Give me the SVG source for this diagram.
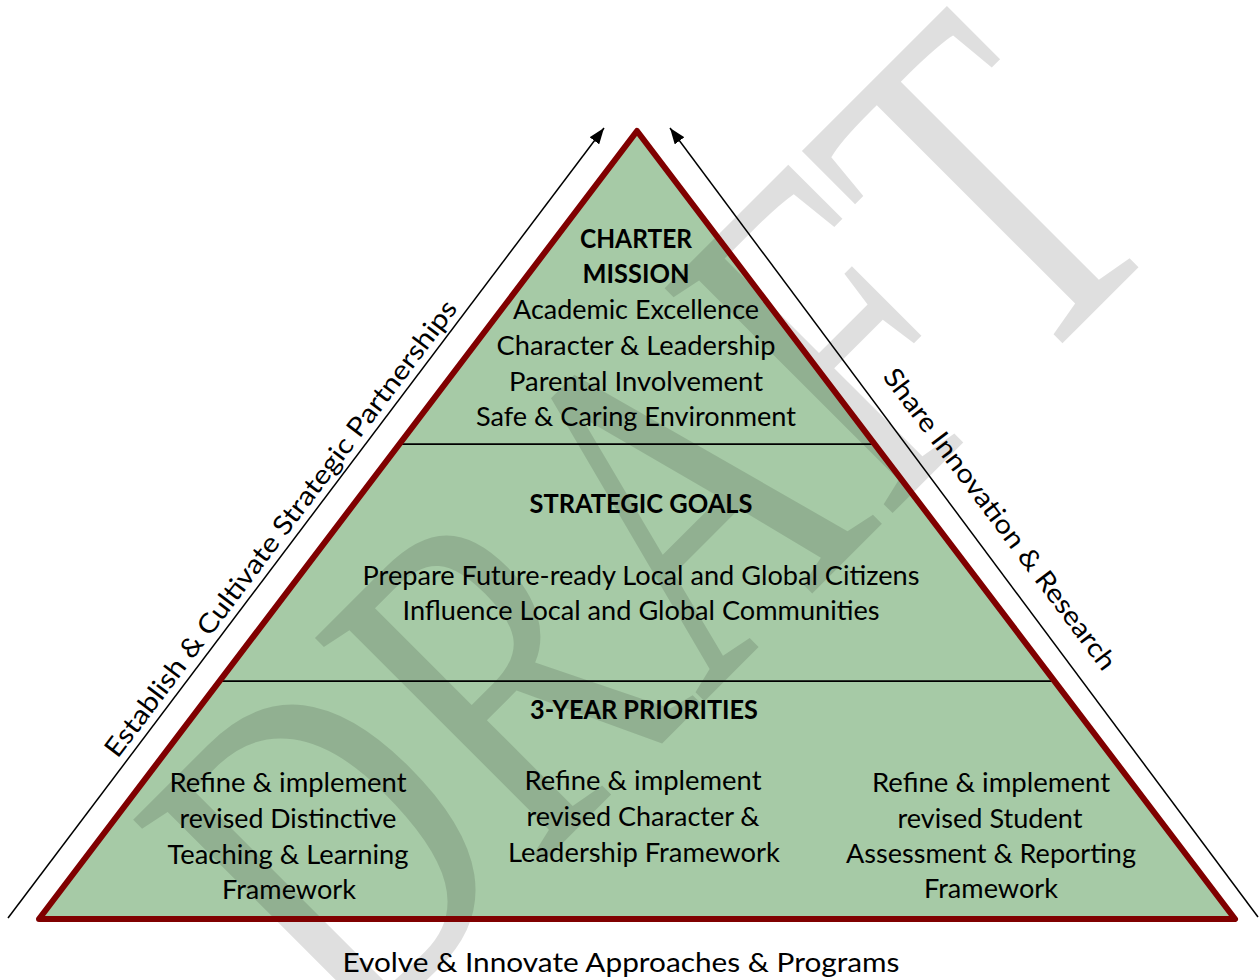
<svg xmlns="http://www.w3.org/2000/svg" width="1260" height="980" viewBox="0 0 1260 980">
  <style>
    .txt { font-family: Lato, "Liberation Sans", sans-serif; font-size: 26.5px; fill: #000; text-anchor: middle; }
    .bold { font-weight: bold; }
    .wm { font-family: "Liberation Serif", "Times New Roman", serif; font-size: 489px; fill: #000; fill-opacity: 0.125; }
    .divider { stroke: #000; stroke-width: 1.75; }
    .border { fill: none; stroke: #800000; stroke-width: 6; stroke-linejoin: round; }
    .arrow { stroke: #000; stroke-width: 1.5; fill: none; marker-end: url(#head); }
  </style>
  <defs>
    <marker id="head" viewBox="0 0 16 12" refX="16" refY="6" markerWidth="16" markerHeight="12" markerUnits="userSpaceOnUse" orient="auto">
      <path d="M0,0 L16,6 L0,12 z" fill="#000"/>
    </marker>
  </defs>

  <rect width="1260" height="980" fill="#fff"/>

  <!-- pyramid body -->
  <g id="pyramid">
    <polygon points="637,131 1235,919 39,919" fill="#a6caa6"/>
  </g>

  <!-- background watermark -->
  <text class="wm" transform="rotate(-45) scale(0.728,1)" x="-681" y="994">DRAFT</text>

  <!-- tier dividers and outline -->
  <g id="tiers">
    <line class="divider" x1="399" y1="444" x2="875" y2="444"/>
    <line class="divider" x1="218" y1="681" x2="1056" y2="681"/>
    <polygon class="border" points="637,131 1235,919 39,919"/>
  </g>

  <!-- side arrows -->
  <g id="connectors">
    <line class="arrow" x1="8" y1="918" x2="604" y2="128"/>
    <line class="arrow" x1="1258" y1="917" x2="670" y2="128"/>
  </g>

  <g id="charter-mission">
    <text class="txt bold" x="636" y="248" textLength="112" lengthAdjust="spacingAndGlyphs">CHARTER</text>
    <text class="txt bold" x="636" y="283" textLength="107" lengthAdjust="spacingAndGlyphs">MISSION</text>
    <text class="txt" x="636" y="319" textLength="246" lengthAdjust="spacingAndGlyphs">Academic Excellence</text>
    <text class="txt" x="636" y="355" textLength="279" lengthAdjust="spacingAndGlyphs">Character &amp; Leadership</text>
    <text class="txt" x="636" y="391" textLength="254" lengthAdjust="spacingAndGlyphs">Parental Involvement</text>
    <text class="txt" x="636" y="426" textLength="320" lengthAdjust="spacingAndGlyphs">Safe &amp; Caring Environment</text>
  </g>

  <g id="strategic-goals">
    <text class="txt bold" x="641" y="513" textLength="223" lengthAdjust="spacingAndGlyphs">STRATEGIC GOALS</text>
    <text class="txt" x="641" y="585" textLength="557" lengthAdjust="spacingAndGlyphs">Prepare Future-ready Local and Global Citizens</text>
    <text class="txt" x="641" y="620" textLength="477" lengthAdjust="spacingAndGlyphs">Influence Local and Global Communities</text>
  </g>

  <g id="priorities">
    <text class="txt bold" x="644" y="719" textLength="228" lengthAdjust="spacingAndGlyphs">3-YEAR PRIORITIES</text>
  </g>

  <g id="priority-teaching">
    <text class="txt" x="288" y="792" textLength="237" lengthAdjust="spacingAndGlyphs">Refine &amp; implement</text>
    <text class="txt" x="288" y="828" textLength="217" lengthAdjust="spacingAndGlyphs">revised Distinctive</text>
    <text class="txt" x="288" y="864" textLength="241" lengthAdjust="spacingAndGlyphs">Teaching &amp; Learning</text>
    <text class="txt" x="289" y="899" textLength="134" lengthAdjust="spacingAndGlyphs">Framework</text>
  </g>

  <g id="priority-character">
    <text class="txt" x="643" y="790" textLength="237" lengthAdjust="spacingAndGlyphs">Refine &amp; implement</text>
    <text class="txt" x="643" y="826" textLength="233" lengthAdjust="spacingAndGlyphs">revised Character &amp;</text>
    <text class="txt" x="644" y="862" textLength="272" lengthAdjust="spacingAndGlyphs">Leadership Framework</text>
  </g>

  <g id="priority-assessment">
    <text class="txt" x="991" y="792" textLength="238" lengthAdjust="spacingAndGlyphs">Refine &amp; implement</text>
    <text class="txt" x="990" y="828" textLength="185" lengthAdjust="spacingAndGlyphs">revised Student</text>
    <text class="txt" x="991" y="863" textLength="290" lengthAdjust="spacingAndGlyphs">Assessment &amp; Reporting</text>
    <text class="txt" x="991" y="898" textLength="134" lengthAdjust="spacingAndGlyphs">Framework</text>
  </g>

  <g id="label-partnerships">
    <text class="txt" transform="translate(288,534) rotate(-52.9)" x="0" y="0" textLength="565" lengthAdjust="spacingAndGlyphs">Establish &amp; Cultivate Strategic Partnerships</text>
  </g>

  <g id="label-innovation">
    <text class="txt" transform="translate(992.5,524.5) rotate(53.2)" x="0" y="0" textLength="369" lengthAdjust="spacingAndGlyphs">Share Innovation &amp; Research</text>
  </g>

  <g id="label-programs">
    <text class="txt" x="621" y="972" textLength="557" lengthAdjust="spacingAndGlyphs">Evolve &amp; Innovate Approaches &amp; Programs</text>
  </g>
</svg>
